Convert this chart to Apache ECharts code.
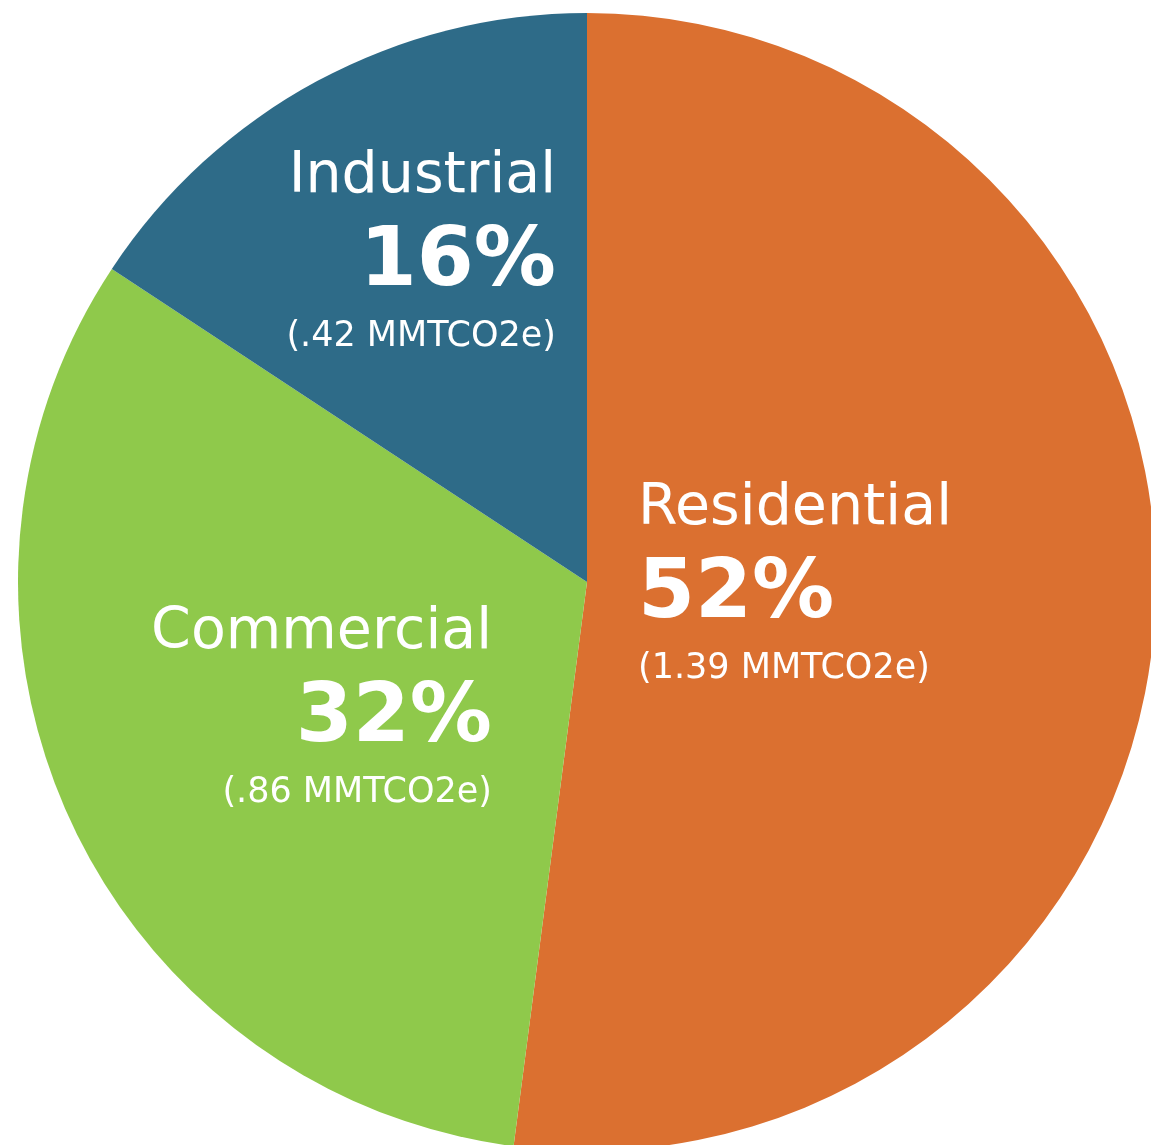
<!DOCTYPE html>
<html>
<head>
<meta charset="utf-8">
<title>Emissions by sector</title>
<script src="https://cdn.jsdelivr.net/npm/echarts@6/dist/echarts.min.js"></script>
<style>
  html, body { margin: 0; padding: 0; background: #ffffff; }
  #chart { width: 1151px; height: 1145px; }
</style>
</head>
<body>
<div id="chart"></div>
<script>
// Sectors and their emissions (MMTCO2e)
const sectors = ['Residential', 'Commercial', 'Industrial'];
const emissions = [1.39, 0.86, 0.42];
const emissionLabels = ['1.39', '.86', '.42'];
const sectorColors = ['#DB7030', '#8FC94B', '#2E6B88'];

// Label anchor per sector: [x, y, align]
const labelAnchors = {
  Residential: [638, 582, 'left'],
  Commercial: [492, 706, 'right'],
  Industrial: [556, 250, 'right']
};

const chart = echarts.init(document.getElementById('chart'), null, { renderer: 'canvas' });

const total = emissions.reduce((a, b) => a + b, 0);

const data = sectors.map((name, i) => ({
  name: name,
  value: emissions[i],
  display: emissionLabels[i],
  itemStyle: { color: sectorColors[i] }
}));

chart.setOption({
  backgroundColor: '#ffffff',
  animation: false,
  series: [{
    type: 'pie',
    center: [587, 582],
    radius: [0, 569],
    startAngle: 90,
    clockwise: true,
    silent: true,
    itemStyle: { borderWidth: 0 },
    label: {
      show: true,
      position: 'inside',
      color: '#ffffff',
      formatter: function (p) {
        const pct = Math.round(p.value / total * 100);
        return '{name|' + p.name + '}\n{pct|' + pct + '%}\n{sub|(' + p.data.display + ' MMTCO2e)}';
      },
      rich: {
        name: { fontFamily: 'DejaVu Sans', fontSize: 57, color: '#ffffff', lineHeight: 92 },
        pct: { fontFamily: 'DejaVu Sans', fontWeight: 'bold', fontSize: 82, color: '#ffffff', lineHeight: 82 },
        sub: { fontFamily: 'DejaVu Sans', fontSize: 35, color: '#ffffff', lineHeight: 64 }
      }
    },
    labelLine: { show: false },
    labelLayout: function (params) {
      const a = labelAnchors[sectors[params.dataIndex]];
      return { x: a[0], y: a[1], align: a[2], verticalAlign: 'middle' };
    },
    data: data
  }]
});
</script>
</body>
</html>
